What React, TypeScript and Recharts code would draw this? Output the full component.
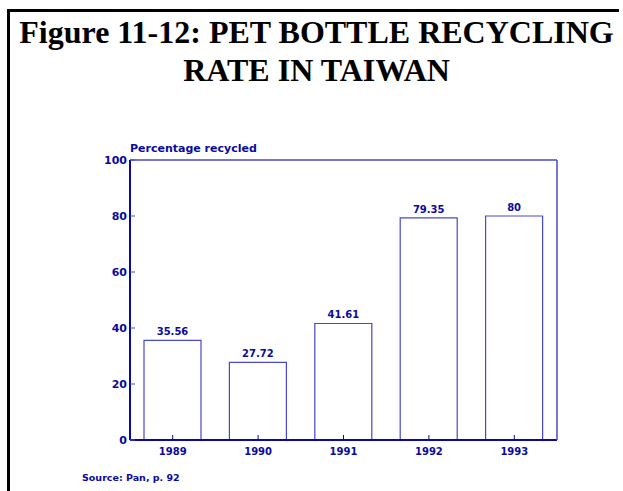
import { Bar, BarChart, LabelList, XAxis, YAxis } from 'recharts'

const years = ['1989', '1990', '1991', '1992', '1993']
const rates = [35.56, 27.72, 41.61, 79.35, 80]
const yTicks = [0, 20, 40, 60, 80, 100]

const BLUE = '#0a0a9e'
const FRAME = '#4848cc'
const SANS = '"DejaVu Sans", sans-serif'

const data = years.map((year, i) => ({ year, rate: rates[i] }))

export default function App() {
  return (
    <div style={{ position: 'absolute', left: 0, top: 0, width: 623, height: 491, background: '#fff', overflow: 'hidden' }}>
      {/* page frame: top and left rules only */}
      <div
        style={{
          position: 'absolute',
          left: 7,
          top: 9,
          width: 609,
          height: 490,
          borderTop: '3px solid #000',
          borderLeft: '3px solid #000',
        }}
      />
      <div
        style={{
          position: 'absolute',
          left: 10,
          top: 13,
          width: 613,
          textAlign: 'center',
          fontFamily: '"Liberation Serif", serif',
          fontWeight: 'bold',
          fontSize: 32,
          lineHeight: '38px',
          color: '#000',
          whiteSpace: 'nowrap',
        }}
      >
        Figure 11-12: PET BOTTLE RECYCLING
        <br />
        RATE IN TAIWAN
      </div>

      <div style={{ position: 'absolute', left: 0, top: 0 }}>
        <BarChart
          width={623}
          height={491}
          data={data}
          margin={{ top: 159, right: 65, bottom: 50, left: 129 }}
          barSize={57}
        >
          <XAxis
            dataKey="year"
            height={1}
            axisLine={{ stroke: BLUE, strokeWidth: 2 }}
            tickLine={{ stroke: BLUE }}
            tickSize={-5}
            tickMargin={13}
            tick={{ fill: BLUE, fontFamily: SANS, fontWeight: 'bold', fontSize: 10 }}
          />
          <XAxis xAxisId="top" orientation="top" dataKey="year" height={1} tick={false} tickLine={false} axisLine={{ stroke: FRAME, strokeWidth: 1.5 }} />
          <YAxis
            domain={[0, 100]}
            ticks={yTicks}
            width={1}
            interval={0}
            axisLine={{ stroke: BLUE, strokeWidth: 2 }}
            tickLine={{ stroke: FRAME }}
            tickSize={-5}
            tickMargin={8}
            tick={{ fill: BLUE, fontFamily: SANS, fontWeight: 'bold', fontSize: 11 }}
          />
          <YAxis yAxisId="right" orientation="right" domain={[0, 100]} width={1} tick={false} tickLine={false} axisLine={{ stroke: FRAME, strokeWidth: 1.5 }} />
          <Bar dataKey="rate" fill="#fff" stroke={FRAME} strokeWidth={1.2} isAnimationActive={false}>
            <LabelList
              dataKey="rate"
              position="top"
              offset={5}
              fill={BLUE}
              style={{ fontFamily: SANS, fontWeight: 'bold', fontSize: 10 }}
            />
          </Bar>
        </BarChart>
      </div>

      <div
        style={{
          position: 'absolute',
          left: 130,
          top: 142,
          fontFamily: SANS,
          fontWeight: 'bold',
          fontSize: 11,
          color: BLUE,
          whiteSpace: 'nowrap',
        }}
      >
        Percentage recycled
      </div>
      <div
        style={{
          position: 'absolute',
          left: 82,
          top: 472,
          fontFamily: SANS,
          fontWeight: 'bold',
          fontSize: 9.5,
          color: BLUE,
          whiteSpace: 'nowrap',
        }}
      >
        Source: Pan, p. 92
      </div>
    </div>
  )
}
